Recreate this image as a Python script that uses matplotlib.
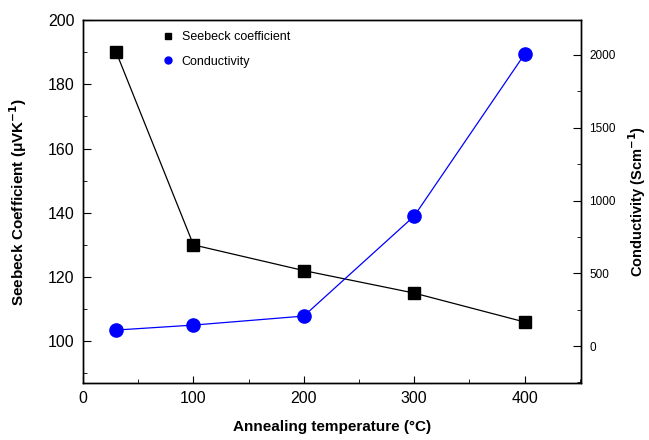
import matplotlib
matplotlib.use("Agg")
import matplotlib.pyplot as plt
from matplotlib.lines import Line2D
from matplotlib.ticker import MultipleLocator

plt.rcParams['font.family'] = ['Liberation Sans', 'DejaVu Sans']

temperature = [30, 100, 200, 300, 400]
seebeck = [190, 130, 122, 115, 106]
conductivity = [110, 144, 206, 893, 2005]

fig = plt.figure(figsize=(6.49, 4.4), dpi=100)
ax = fig.add_axes([0.128, 0.1295, 0.767, 0.825])
ax2 = ax.twinx()

ax.plot(temperature, seebeck, color='black', lw=0.9, marker='s', ms=8.5,
        markerfacecolor='black', markeredgecolor='black', zorder=3)
ax2.plot(temperature, conductivity, color='blue', lw=0.9, marker='o', ms=9.5,
         markerfacecolor='blue', markeredgecolor='blue', zorder=3)

ax.set_xlim(0, 451)
ax.set_ylim(87, 200)
ax2.set_ylim(-254, 2240)

ax.xaxis.set_major_locator(MultipleLocator(100))
ax.xaxis.set_minor_locator(MultipleLocator(50))
ax.yaxis.set_major_locator(MultipleLocator(20))
ax.yaxis.set_minor_locator(MultipleLocator(10))
ax2.yaxis.set_major_locator(MultipleLocator(500))
ax2.yaxis.set_minor_locator(MultipleLocator(250))

ax.tick_params(axis='x', which='both', direction='in', labelsize=11.5, pad=6)
ax.tick_params(axis='x', which='major', length=5)
ax.tick_params(axis='x', which='minor', length=3)
ax.tick_params(axis='y', which='both', direction='in', labelsize=11.5, pad=6)
ax.tick_params(axis='y', which='major', length=6)
ax.tick_params(axis='y', which='minor', length=3)
ax2.tick_params(axis='y', which='both', direction='in', labelsize=8.5, pad=6)
ax2.tick_params(axis='y', which='major', length=6)
ax2.tick_params(axis='y', which='minor', length=3)

for a in (ax, ax2):
    for s in a.spines.values():
        s.set_linewidth(1.0)

ax.set_xlabel('Annealing temperature (°C)', fontsize=11, fontweight='bold', labelpad=10)
ax.set_ylabel('Seebeck Coefficient (μVK$^{\\mathbf{-1}}$)', fontsize=11, fontweight='bold', labelpad=14)
ax2.set_ylabel('Conductivity (Scm$^{\\mathbf{-1}}$)', fontsize=10.5, fontweight='bold', labelpad=8)

handles = [
    Line2D([], [], color='black', marker='s', ms=5, ls='none', label='Seebeck coefficient'),
    Line2D([], [], color='blue', marker='o', ms=5, ls='none', label='Conductivity'),
]
ax.legend(handles=handles, loc='upper left', bbox_to_anchor=(0.135, 1.0), frameon=False,
          fontsize=9, handletextpad=0.6, labelspacing=1.0, handlelength=1.0)

fig.savefig('out.png', dpi=100)
